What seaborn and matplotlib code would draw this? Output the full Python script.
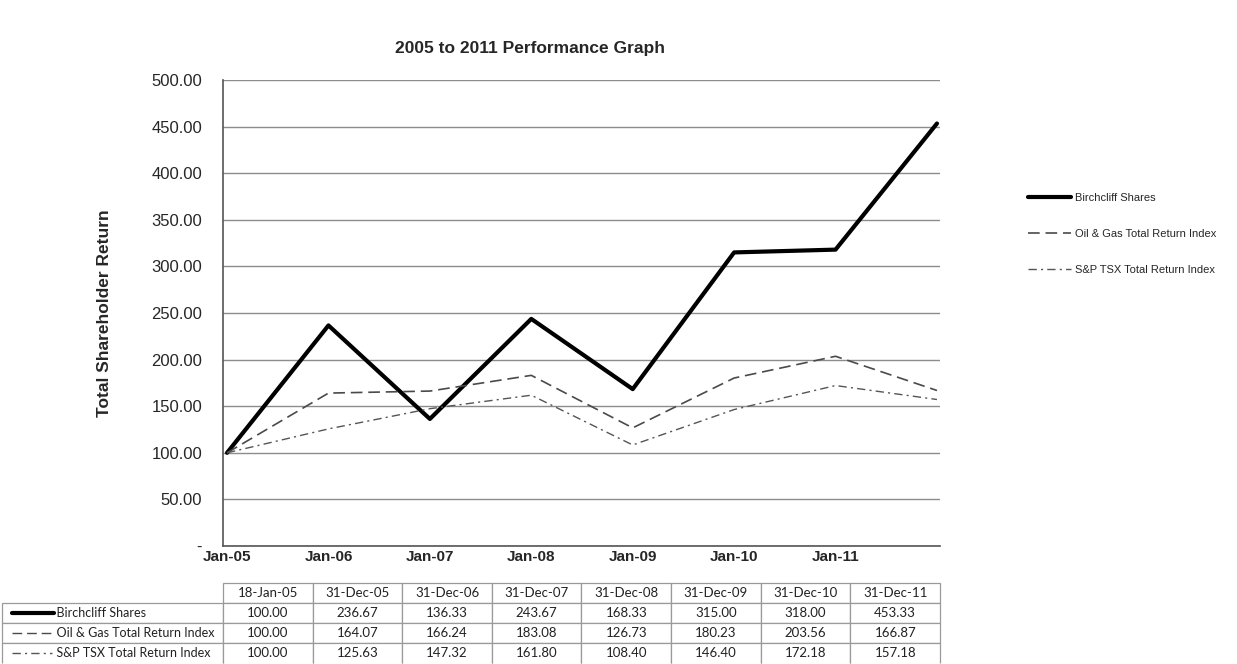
import matplotlib
matplotlib.use('Agg')
import matplotlib.pyplot as plt
from matplotlib.lines import Line2D
import pandas as pd
import seaborn as sns

# values from the data table under the chart
dates = ['18-Jan-05', '31-Dec-05', '31-Dec-06', '31-Dec-07',
         '31-Dec-08', '31-Dec-09', '31-Dec-10', '31-Dec-11']
birchcliff = [100.00, 236.67, 136.33, 243.67, 168.33, 315.00, 318.00, 453.33]
oil_gas = [100.00, 164.07, 166.24, 183.08, 126.73, 180.23, 203.56, 166.87]
sp_tsx = [100.00, 125.63, 147.32, 161.80, 108.40, 146.40, 172.18, 157.18]
axis_labels = ['Jan-05', 'Jan-06', 'Jan-07', 'Jan-08', 'Jan-09', 'Jan-10', 'Jan-11']
series_names = ['Birchcliff Shares', 'Oil & Gas Total Return Index', 'S&P TSX Total Return Index']

sns.set_style('white')
plt.rcParams['font.family'] = ['Liberation Sans', 'DejaVu Sans']

df = pd.concat([
    pd.DataFrame({'pos': range(len(dates)), 'value': vals, 'series': name})
    for name, vals in zip(series_names, [birchcliff, oil_gas, sp_tsx])
])

palette = {series_names[0]: 'black', series_names[1]: '#4a4a4a', series_names[2]: '#555555'}
dash_map = {series_names[0]: '', series_names[1]: (7, 3.5), series_names[2]: (6, 3, 1.5, 3)}
size_map = {series_names[0]: 3.0, series_names[1]: 1.2, series_names[2]: 1.0}

fig = plt.figure(figsize=(12.37, 6.64), dpi=100)
ax = fig.add_axes([223 / 1237, 118 / 664, 717 / 1237, 466 / 664])

sns.lineplot(data=df, x='pos', y='value', hue='series', style='series', size='series',
             palette=palette, dashes=dash_map, sizes=size_map, legend=False, ax=ax)

ax.set_xlim(-0.04, 7.03)
ax.set_ylim(0, 500)
yt = list(range(0, 501, 50))
ax.set_yticks(yt)
ax.set_yticklabels(['-' if v == 0 else f'{v:.2f}' for v in yt], fontsize=12)
ax.set_xticks(range(len(axis_labels)))
ax.set_xticklabels(axis_labels, fontsize=11, fontweight='bold')
ax.tick_params(axis='x', length=0, pad=3)
ax.tick_params(axis='y', length=0, pad=15)
ax.yaxis.grid(True, color='#8c8c8c', linewidth=1)
ax.set_axisbelow(True)
ax.set_xlabel('')
ax.set_ylabel('Total Shareholder Return', fontsize=12.5, fontweight='bold', labelpad=28)
for s in ['top', 'right']:
    ax.spines[s].set_visible(False)
for s in ['left', 'bottom']:
    ax.spines[s].set_color('#555555')
    ax.spines[s].set_linewidth(1.2)

fig.text(530 / 1237, 1 - 48 / 664, '2005 to 2011 Performance Graph', ha='center', va='center',
         fontsize=12.5, fontweight='bold')

# legend on the right
handles = [Line2D([], [], color=palette[n], linewidth=size_map[n]) for n in series_names]
for h, n in zip(handles, series_names):
    if dash_map[n]:
        h.set_dashes(dash_map[n])
fig.legend(handles, series_names, loc='upper left', bbox_to_anchor=(1018 / 1237, 1 - 183 / 664),
           frameon=False, fontsize=8, handlelength=3.9, handletextpad=0.3, labelspacing=2.35)

# data table under the plot
cell_text = [[''] + dates]
for name, vals in zip(series_names, [birchcliff, oil_gas, sp_tsx]):
    cell_text.append(['          ' + name] + [f'{v:.2f}' for v in vals])
label_w = 221 / 717
col_w = [label_w] + [1 / 8] * 8
top_px, bot_px = 583, 663
tbl = ax.table(cellText=cell_text, colWidths=col_w, cellLoc='center',
               bbox=[-label_w, -(bot_px - 546) / 466, 1 + label_w, (bot_px - top_px) / 466])
tbl.auto_set_font_size(False)
for (r, c), cell in tbl.get_celld().items():
    cell.set_edgecolor('#9a9a9a')
    cell.set_linewidth(0.9)
    cell.get_text().set_fontsize(9.5 if c > 0 else 9)
    cell.get_text().set_family(['Lato', 'DejaVu Sans'])
    cell.get_text().set_color('#222222')
    if r == 0 and c == 0:
        cell.visible_edges = ''
    elif r == 3:
        cell.visible_edges = 'LRT'
    if c == 0 and r > 0:
        cell.get_text().set_ha('left')
        cell._loc = 'left'

# line samples in the label column
row_h = (bot_px - top_px) / 4
for i, name in enumerate(series_names):
    y_px = top_px + row_h * (i + 1.5)
    ya = (664 - y_px - 118) / 466
    x0 = (12 - 223) / 717
    x1 = (54 - 223) / 717 if i == 0 else (52 - 223) / 717
    ln = Line2D([x0, x1], [ya, ya], transform=ax.transAxes, clip_on=False,
                color=palette[name], linewidth=3 if i == 0 else 1.0)
    if dash_map[name]:
        ln.set_dashes(dash_map[name])
    ax.add_line(ln)

fig.savefig('out.png', dpi=100)
